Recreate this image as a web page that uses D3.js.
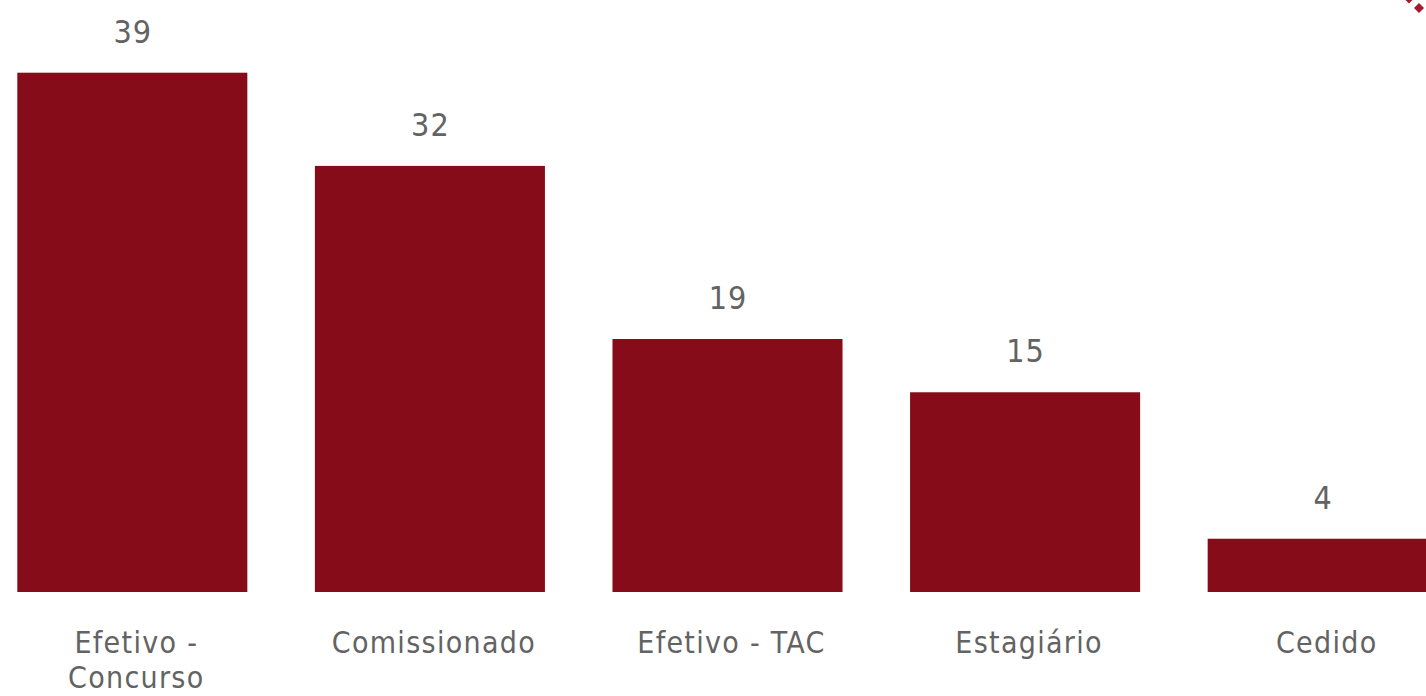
<!DOCTYPE html>
<html>
<head>
<meta charset="utf-8">
<script src="https://cdn.jsdelivr.net/npm/d3@7"></script>
<style>
  html, body { margin: 0; padding: 0; background: #ffffff; overflow: hidden; }
  svg { display: block; }
  text { font-family: "DejaVu Sans Condensed", "DejaVu Sans", Verdana, sans-serif; font-stretch: condensed; fill: #636363; letter-spacing: 1px; }
  .cat { letter-spacing: 1.3px; }
</style>
</head>
<body>
<svg id="chart" width="1426" height="696"></svg>
<script>
const categories = ["Efetivo - Concurso", "Comissionado", "Efetivo - TAC", "Estagiário", "Cedido"];
const values = [39, 32, 19, 15, 4];

const svg = d3.select("#chart");

const x = d3.scaleBand()
  .domain(categories)
  .range([17.3, 1437.7])
  .paddingInner(0.227)
  .paddingOuter(0);

const y = d3.scaleLinear()
  .domain([0, d3.max(values)])
  .range([592, 72.7]);

const data = categories.map((c, i) => ({ c, v: values[i] }));

svg.append("g").selectAll("rect")
  .data(data)
  .join("rect")
  .attr("x", d => x(d.c))
  .attr("y", d => y(d.v))
  .attr("width", x.bandwidth())
  .attr("height", d => y(0) - y(d.v))
  .attr("fill", "#850C18");

svg.append("g").selectAll("text")
  .data(data)
  .join("text")
  .attr("x", d => x(d.c) + x.bandwidth() / 2 + 0.5)
  .attr("y", d => y(d.v) - 30)
  .attr("text-anchor", "middle")
  .attr("font-size", 32)
  .text(d => d.v);

// category axis labels with wrapping
const axisG = svg.append("g");
const labels = axisG.selectAll("text")
  .data(data)
  .join("text")
  .attr("class", "cat")
  .attr("x", d => x(d.c) + x.bandwidth() / 2 + 4)
  .attr("y", 653)
  .attr("text-anchor", "middle")
  .attr("font-size", 30);

labels.each(function(d) {
  const t = d3.select(this);
  const words = d.c.split(" ");
  const maxW = x.bandwidth();
  let lines = [];
  let cur = [];
  const probe = t.append("tspan");
  words.forEach(w => {
    const trial = cur.concat([w]).join(" ");
    probe.text(trial);
    if (probe.node().getComputedTextLength() > maxW && cur.length) {
      lines.push(cur.join(" "));
      cur = [w];
    } else {
      cur.push(w);
    }
  });
  if (cur.length) lines.push(cur.join(" "));
  probe.remove();
  lines.forEach((ln, i) => {
    t.append("tspan")
      .attr("x", x(d.c) + x.bandwidth() / 2 + 4)
      .attr("dy", i === 0 ? 0 : 35)
      .text(ln);
  });
});

// small loading-dot decoration in the top-right corner
const dots = [[1409, 0, 3.5], [1419, 8, 5]];
svg.append("g").selectAll("path")
  .data(dots)
  .join("path")
  .attr("d", d => `M${d[0]},${d[1]-d[2]} L${d[0]+d[2]},${d[1]} L${d[0]},${d[1]+d[2]} L${d[0]-d[2]},${d[1]} Z`)
  .attr("fill", "#A5182D");
</script>
</body>
</html>
